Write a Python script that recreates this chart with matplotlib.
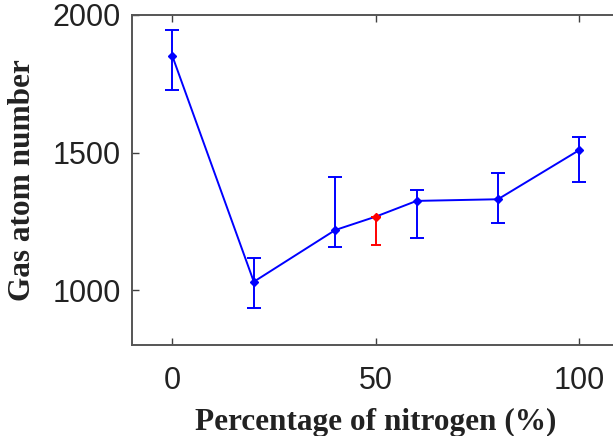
import numpy as np
from matplotlib import pyplot as plt

# data
nitrogen = [0, 20, 40, 50, 60, 80, 100]
gas_atoms = [1850, 1030, 1218, 1267, 1324, 1330, 1509]
err_upper = [1945, 1117, 1410, 1267, 1364, 1427, 1555]
err_lower = [1727, 936, 1157, 1163, 1188, 1245, 1394]
highlight = 50  # point drawn in red

x = np.array(nitrogen)
y = np.array(gas_atoms)
yerr = np.vstack([y - np.array(err_lower), np.array(err_upper) - y])
mask = x == highlight

fig = plt.figure(figsize=(6.13, 4.36), dpi=100)
ax = fig.add_axes([0.2149, 0.2087, 0.7966, 0.7569])

ax.plot(x, y, "-", color="#0000ff", lw=1.4, zorder=2)
ax.errorbar(x[~mask], y[~mask], yerr=yerr[:, ~mask], fmt="D", color="#0000ff",
            ms=4.5, elinewidth=1.4, capsize=5, capthick=1.4, zorder=3)
ax.errorbar(x[mask], y[mask], yerr=yerr[:, mask], fmt="D", color="#ff0000",
            ms=4.5, elinewidth=1.4, capsize=3.5, capthick=1.4, zorder=3)

ax.set_xlim(-10, 110)
ax.set_ylim(800, 2000)
ax.set_xticks([0, 50, 100])
ax.set_yticks([1000, 1500, 2000])
ax.tick_params(direction="in", length=5, width=1.0, colors="#404040",
               top=True, right=True, labelsize=22, labelcolor="#222222")
ax.tick_params(axis="x", pad=15)
ax.tick_params(axis="y", pad=8)
for lab in ax.get_xticklabels() + ax.get_yticklabels():
    lab.set_family("Liberation Sans")
for s in ax.spines.values():
    s.set_color("#555555")
    s.set_linewidth(1.4)

ax.set_xlabel("Percentage of nitrogen (%)", family="Liberation Serif",
              fontweight="bold", fontsize=22.5, color="#222222", labelpad=9)
ax.set_ylabel("Gas atom number", family="Liberation Serif",
              fontweight="bold", fontsize=22.5, color="#222222", labelpad=11)

fig.savefig("out.png", dpi=100)
